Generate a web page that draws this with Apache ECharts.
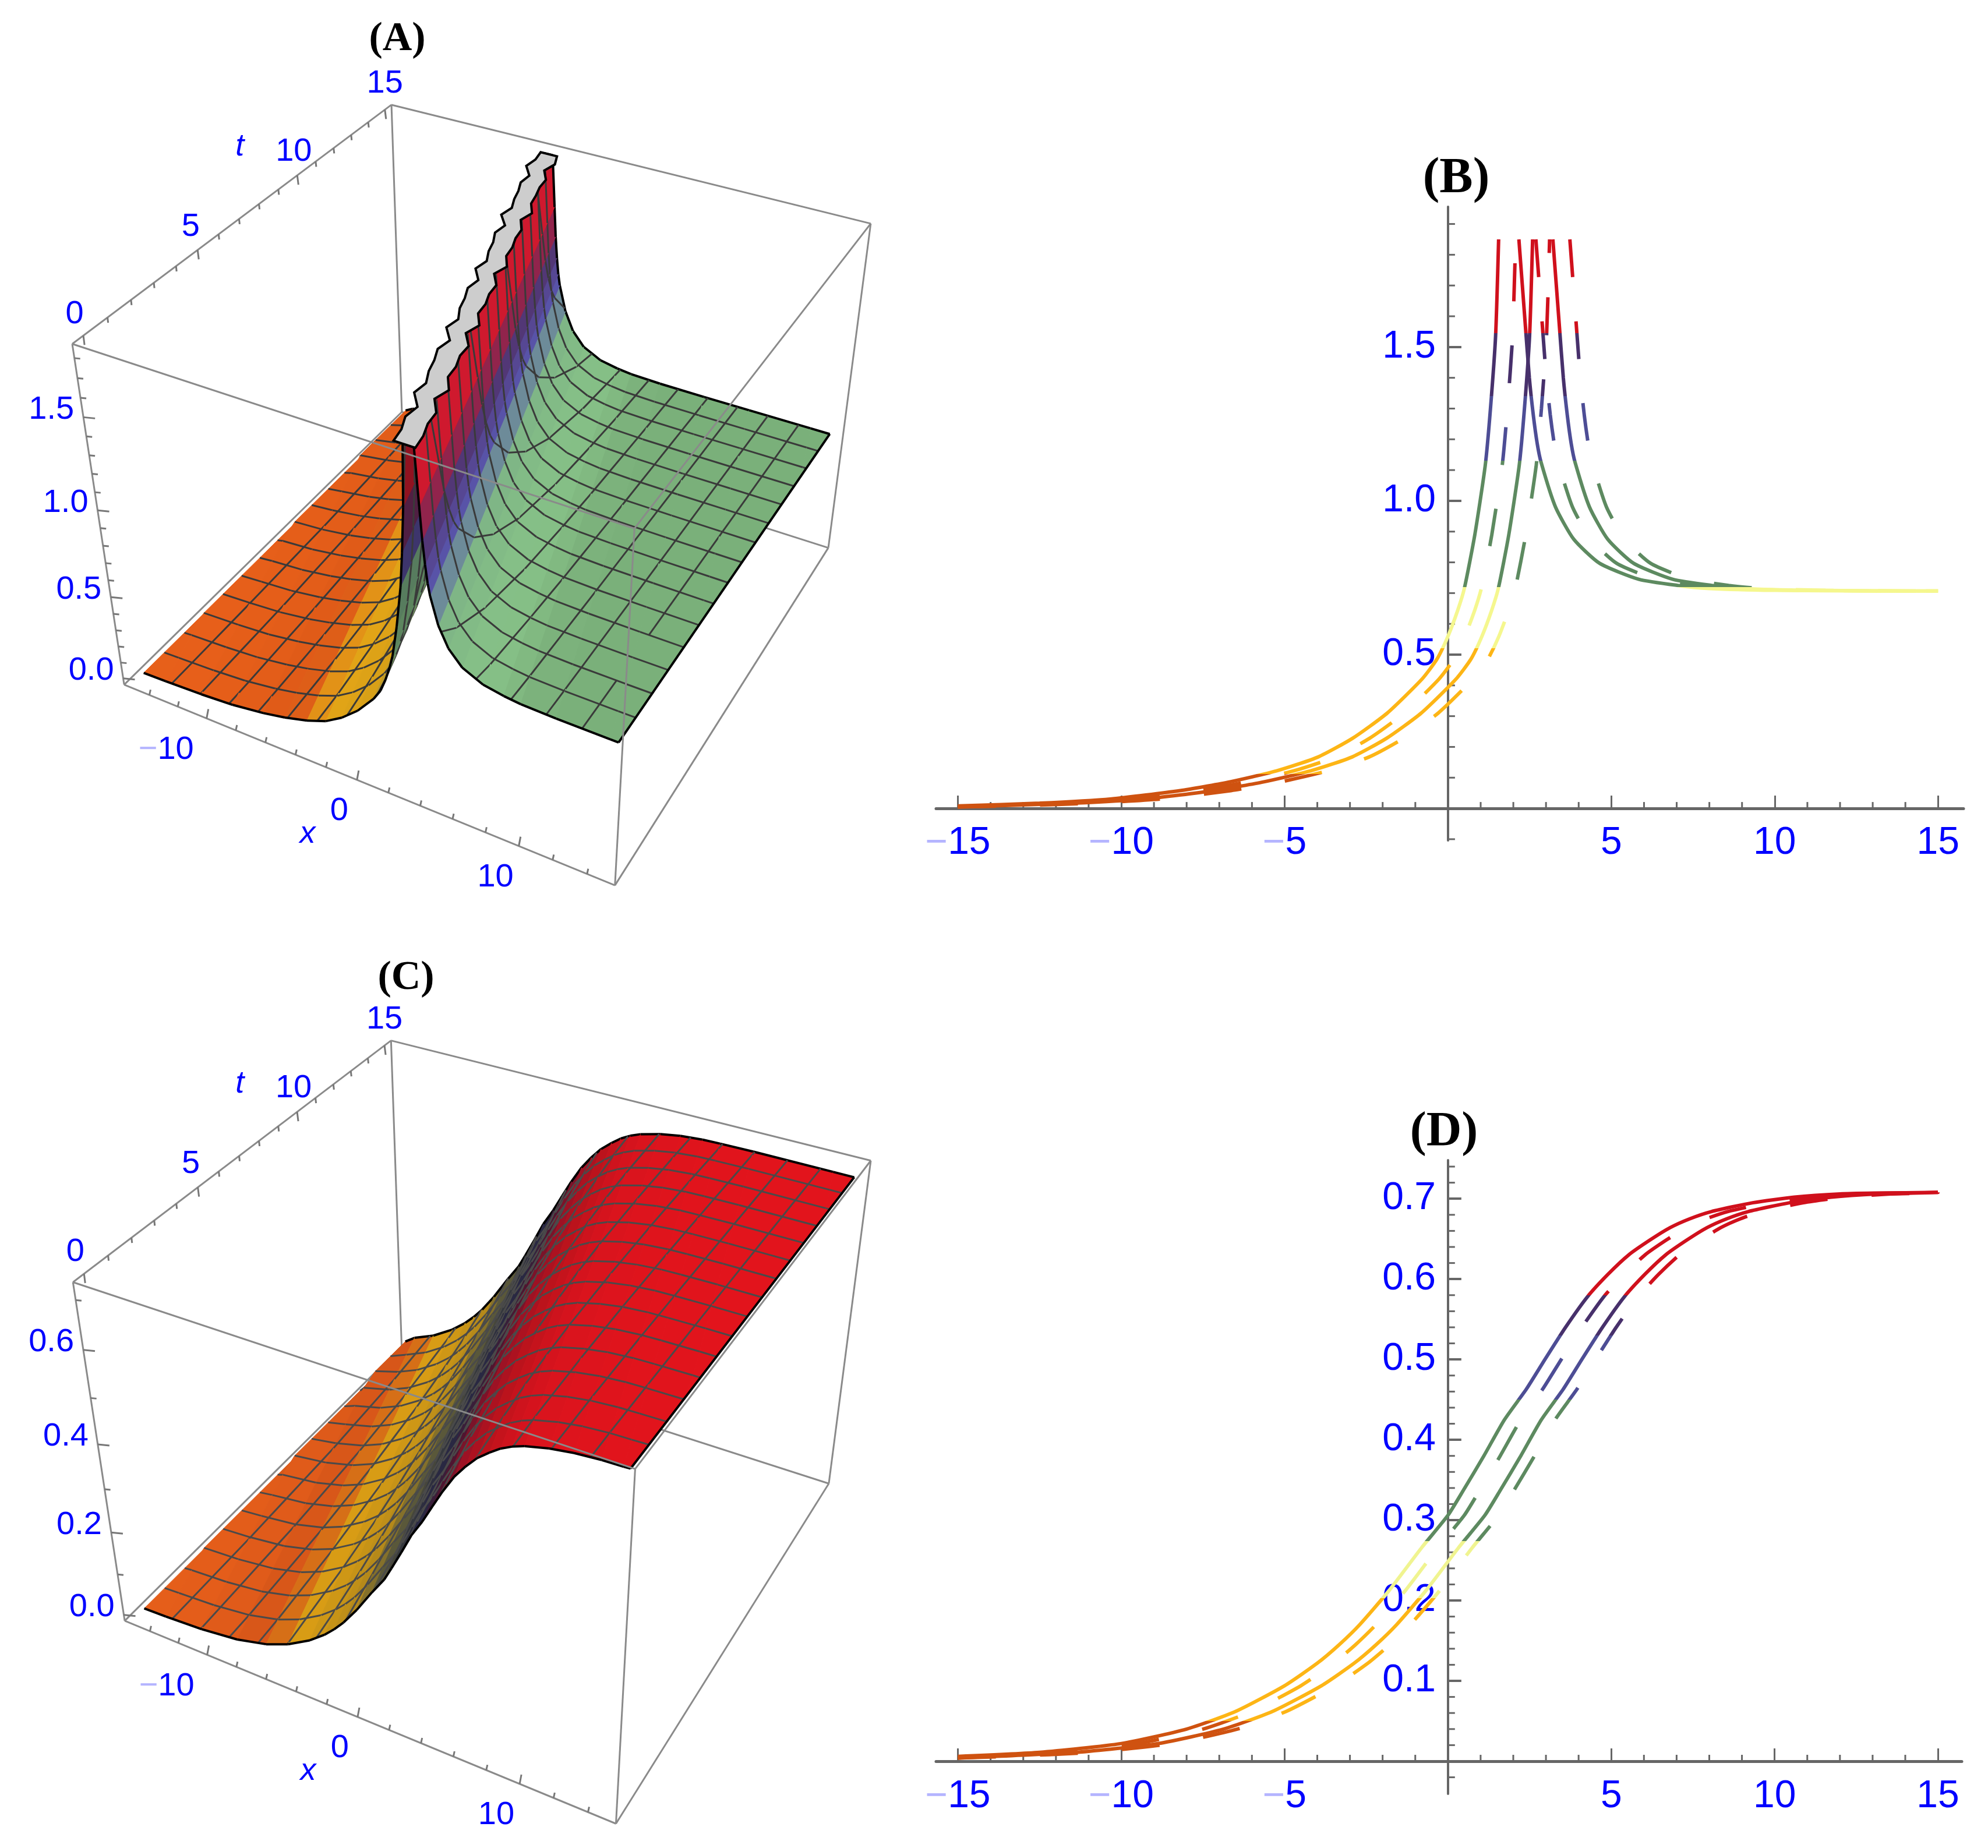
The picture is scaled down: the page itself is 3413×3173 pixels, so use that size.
<!DOCTYPE html>
<html><head><meta charset="utf-8"><style>html,body{margin:0;background:#fff}#c{width:3413px;height:3173px}</style>
<script src="https://cdn.jsdelivr.net/npm/echarts@6/dist/echarts.min.js"></script></head><body><div id="c"></div>
<script>
// ---- values ----
const profileALeft=[[-25,.001],[-20,.003],[-17,.005],[-15,.008],[-12.5,.017],[-10.3,.031],[-8.2,.058],[-6.74,.085],[-5.25,.122],[-3.98,.167],[-2.92,.228],[-1.86,.31],[-.8,.42],[-.34,.485],[0,.56],[.3,.645],[.5,.715],[.82,.889],[1.14,1.115],[1.3,1.3],[1.457,1.536],[1.55,1.85]];
const profileARight=[[2.17,1.85],[2.37,1.567],[2.49,1.4],[2.61,1.28],[2.73,1.187],[2.85,1.125],[3.29,.98],[3.85,.875],[4.64,.797],[5.84,.745],[7.03,.725],[8,.715],[10,.709],[13,.707],[16,.707],[20,.707],[25,.707],[30,.707]];
const profileD=[[-25,.001],[-20,.002],[-17,.004],[-15,.006],[-12.5,.011],[-10,.022],[-8,.04],[-6.5,.062],[-5,.094],[-4,.122],[-3.33,.145],[-2.7,.17],[-1.81,.212],[-.8,.266],[0,.306],[.47,.337],[1.1,.38],[1.73,.425],[2.4,.463],[3,.502],[3.6,.54],[4.27,.578],[4.9,.606],[5.53,.63],[6.2,.649],[6.8,.664],[7.4,.675],[8.06,.684],[9.33,.695],[10.6,.702],[12,.706],[13.1,.707],[15.15,.708],[20,.708],[25,.708],[30,.708]];
const shiftsB=[0,.52,1.04,1.56];
const shiftsD=[0,.5,1.13,1.55];
const tRows=[0,1,2,3,4,5,6,7,8,9,10,11,12,13,14,15];
const ridgeShiftA=[1.56,1.04,.52,0,-.52,-1.04,-1.56,-2.08,-2.6,-3.12,-3.64,-4.16,-4.68,-5.2,-5.72,-6.24];
const ridgeShiftC=[1.55,1.03,.51,-.01,-.53,-1.05,-1.57,-2.09,-2.61,-3.13,-3.65,-4.17,-4.69,-5.21,-5.73,-6.25];
const capHalfWidthL=[.55,.7,.55,.45,.7,.6,.5,.75,.6,.45,.7,.55,.5,.75,.6,.5,.7,.55,.45,.7,.6,.5,.75,.6,.45,.7,.55,.5,.7,.6,.5];
const capHalfWidthR=[.65,.5,.7,.6,.45,.7,.6,.5,.7,.65,.45,.7,.6,.5,.7,.6,.45,.7,.65,.5,.7,.55,.5,.7,.65,.45,.7,.6,.5,.7,.6];
const xMeshLines=[-13,-11,-9,-7,-5,-3,-1,1,3,5,7,9,11,13];
const xMajorBD=[-15,-10,-5,0,5,10,15];
const xMinorBD=[-14,-13,-12,-11,-9,-8,-7,-6,-4,-3,-2,-1,1,2,3,4,6,7,8,9,11,12,13,14];
const yMajorB=[.5,1,1.5];
const yMinorB=[-.1,.1,.2,.3,.4,.6,.7,.8,.9,1.1,1.2,1.3,1.4,1.6,1.7,1.8,1.9];
const yMajorD=[.1,.2,.3,.4,.5,.6,.7];
const yMinorD=[-.02,.02,.04,.06,.08,.12,.14,.16,.18,.22,.24,.26,.28,.32,.34,.36,.38,.42,.44,.46,.48,.52,.54,.56,.58,.62,.64,.66,.68,.72,.74];
const x3dMajor=[-10,0,10], x3dMinor=[-14,-12,-8,-6,-4,-2,2,4,6,8,12,14];
const t3dMajor=[0,5,10,15], t3dMinor=[1,2,3,4,6,7,8,9,11,12,13,14];
const zMajorA=[0,.5,1,1.5], zMinorA=[.1,.2,.3,.4,.6,.7,.8,.9,1.1,1.2,1.3,1.4,1.6,1.7,1.8];
const zMajorC=[0,.2,.4,.6], zMinorC=[.1,.3,.5,.7];
const bandsB=[[-1,.112,'#cf5210'],[.112,.52,'#fdb515'],[.52,.72,'#f5f78e'],[.72,1.13,'#5d8a60'],[1.13,1.34,'#4d4d95'],[1.34,1.545,'#47306b'],[1.545,3,'#d0101c']];
const bandsD=[[-1,.05,'#cf5210'],[.05,.203,'#fdb515'],[.203,.274,'#f0f490'],[.274,.45,'#5d8a60'],[.45,.53,'#4d4d95'],[.53,.58,'#47306b'],[.58,1,'#d0101c']];
const surfA={z:[0,.1,.16,.42,.55,.66,.7,1,1.12,1.35,1.5,1.6,1.9],c:['#e8601a','#e05a18','#e8a817','#e0a818','#8f9a60','#6a9a70','#7ab07a','#70a078','#5050a0','#4a3068','#8a1f40','#b8182a','#c01528']};
const surfC={z:[0,.04,.07,.2,.27,.36,.45,.52,.58,.64,.68,.75],c:['#e8601a','#d9561a','#e4a515','#c8981e','#6e6a40','#3c4048','#2e2c4c','#5a1838','#a8142a','#c8141e','#dc141e','#ea141a']};
const cornersA=[[214,1177],[1056,1520],[690,704],[1421,943],[123,592],[1089,904],[672,181],[1496,384]];
const cornersC=[[217,2789],[1056,3130],[690,2302],[1421,2553],[123,2202],[1091,2515],[670,1791],[1498,1993]];
const boxA={x0:-15.8,x1:15.6,t0:-.45,t1:15.4,z0:-.04,z1:1.87};
const boxC={x0:-15.8,x1:15.6,t0:-.45,t1:15.4,z0:-.015,z1:.735};

const BLUE='#0000ff', FONT='"Liberation Sans"';
// ---- projection fitted to the box corners ----
function solve(A,b){const n=b.length;for(let i=0;i<n;i++){let p=i;for(let r=i+1;r<n;r++)if(Math.abs(A[r][i])>Math.abs(A[p][i]))p=r;[A[i],A[p]]=[A[p],A[i]];[b[i],b[p]]=[b[p],b[i]];for(let r=i+1;r<n;r++){const f=A[r][i]/A[i][i];for(let c=i;c<n;c++)A[r][c]-=f*A[i][c];b[r]-=f*b[i];}}const x=Array(n).fill(0);for(let i=n-1;i>=0;i--){let s=b[i];for(let c=i+1;c<n;c++)s-=A[i][c]*x[c];x[i]=s/A[i][i];}return x;}
function makeView(corners,box){
  const rows=[],rhs=[];
  corners.forEach((c,i)=>{const X=i&1,Y=(i>>1)&1,Z=(i>>2)&1,u=c[0]/1000,v=c[1]/1000;
    rows.push([X,Y,Z,1,0,0,0,0,-u*X,-u*Y,-u*Z]);rhs.push(u);
    rows.push([0,0,0,0,X,Y,Z,1,-v*X,-v*Y,-v*Z]);rhs.push(v);});
  const N=Array.from({length:11},()=>Array(11).fill(0)),B=Array(11).fill(0);
  rows.forEach((r,k)=>{for(let i=0;i<11;i++){B[i]+=r[i]*rhs[k];for(let j=0;j<11;j++)N[i][j]+=r[i]*r[j];}});
  const p=solve(N,B);
  const nrm=(x,t,z)=>[(x-box.x0)/(box.x1-box.x0),(t-box.t0)/(box.t1-box.t0),(z-box.z0)/(box.z1-box.z0)];
  return {box,
    proj(x,t,z){const [X,Y,Z]=nrm(x,t,z),w=p[8]*X+p[9]*Y+p[10]*Z+1;return [1000*(p[0]*X+p[1]*Y+p[2]*Z+p[3])/w,1000*(p[4]*X+p[5]*Y+p[6]*Z+p[7])/w];},
    depth(x,t,z){const [X,Y,Z]=nrm(x,t,z);return p[8]*X+p[9]*Y+p[10]*Z+1;}};
}
const hex=c=>[parseInt(c.slice(1,3),16),parseInt(c.slice(3,5),16),parseInt(c.slice(5,7),16)];
function colorAt(s,z,f){let i=0;while(i<s.z.length-2&&z>s.z[i+1])i++;const a=hex(s.c[i]),b=hex(s.c[i+1]),k=Math.max(0,Math.min(1,(z-s.z[i])/(s.z[i+1]-s.z[i])));
  return 'rgb('+a.map((v,n)=>Math.min(255,Math.round((v+(b[n]-v)*k)*f))).join(',')+')';}
const clampX=x=>Math.max(-15,Math.min(15,x));

function buildScene(view,profile,shift,style,opts){
  const b=view.box,back=[],quads=[],top=[];
  const e=(i)=>[(i&1)?b.x1:b.x0,(i&2)?b.t1:b.t0,(i&4)?b.z1:b.z0];
  const boxLine=(i,j,arr)=>arr.push({lines:[{pts:[e(i),e(j)],c:'#8a8a8a',w:3}]});
  [[2,3],[2,0],[2,6],[4,6],[6,7],[3,7],[0,1],[1,3],[0,4]].forEach(p=>boxLine(p[0],p[1],back));
  // surface rows share one read profile, moved by the ridge position of each row
  const row=r=>profile.map(p=>[clampX(p[0]+shift[r]),tRows[r],p[1]]);
  const range=b.z1-b.z0;
  for(let r=0;r<tRows.length-1;r++){
    const A=row(r),B=row(r+1);
    for(let k=0;k<A.length-1;k++){
      const q=[A[k],A[k+1],B[k+1],B[k]];
      if(q.every(v=>v[0]===-15)||q.every(v=>v[0]===15))continue;
      const zm=(q[0][2]+q[1][2]+q[2][2]+q[3][2])/4;
      const dx=(q[1][0]+q[2][0]-q[0][0]-q[3][0])/2, dz=(q[1][2]+q[2][2]-q[0][2]-q[3][2])/2;
      const s=dx>1e-6?(dz/range)/(dx/30):0;
      const f=s>0?1-.22*Math.min(1,s/opts.darkSlope):1+.11*Math.min(1,-s/.3);
      const lines=[];
      const rowEdgeX=B[k][0]!==B[k+1][0];
      if(rowEdgeX)lines.push({pts:[B[k],B[k+1]],c:r===tRows.length-2?'#000':opts.mesh,w:r===tRows.length-2?4:3});
      xMeshLines.forEach(X=>{const hit=[];for(let n=0;n<4;n++){const u=q[n],v=q[(n+1)%4];if((u[0]-X)*(v[0]-X)<0){const a=(X-u[0])/(v[0]-u[0]);hit.push([X,u[1]+(v[1]-u[1])*a,u[2]+(v[2]-u[2])*a]);}}
        if(hit.length>=2)lines.push({pts:[hit[0],hit[1]],c:opts.mesh,w:3});});
      const cz=[0,1,2,3].reduce((a,n)=>a+view.depth(q[n][0],q[n][1],q[n][2]),0)/4;
      quads.push({poly:q,fill:colorAt(style,zm,f),lines,d:cz});
    }
  }
  quads.sort((a,b)=>b.d-a.d);
  // outer edges
  const first=row(0),last=tRows.length-1;
  const eds=[];
  for(let k=0;k<first.length-1;k++)if(first[k][0]!==first[k+1][0])eds.push({pts:[first[k],first[k+1]],c:'#000',w:4});
  const zEnd=profile[profile.length-1][1];
  eds.push({pts:[[15,0,zEnd],[15,15,zEnd]],c:'#000',w:4});
  top.push({lines:eds});
  if(opts.cap){
    const L=[],R=[];
    opts.capL.forEach((w,i)=>{const t=i/2,a=Math.floor(t),c=Math.min(a+1,last),m=(shift[a]+shift[c])/2+1.86;L.push([m-w,t,opts.capZ]);R.push([m+opts.capR[i],t,opts.capZ]);});
    top.push({poly:L.concat(R.reverse()),fill:'#cdcdcd',stroke:'#000',sw:4});
  }
  [[4,5],[5,7],[5,1]].forEach(p=>boxLine(p[0],p[1],top));
  // axis ticks, along the three labelled box edges
  const tk=[];
  const tickItem=(pt,dx,dy)=>({raw:[pt,dx,dy]});
  x3dMajor.forEach(x=>tk.push(tickItem([x,b.t0,b.z0],3,-16)));x3dMinor.forEach(x=>tk.push(tickItem([x,b.t0,b.z0],2,-9)));
  t3dMajor.forEach(t=>tk.push(tickItem([b.x0,t,b.z1],2,16)));t3dMinor.forEach(t=>tk.push(tickItem([b.x0,t,b.z1],1,9)));
  opts.zMajor.forEach(z=>tk.push(tickItem([b.x0,b.t0,z],20,2)));opts.zMinor.forEach(z=>tk.push(tickItem([b.x0,b.t0,z],10,1)));
  const labels=[];
  const tOff={0:[-15,-37],5:[-12,-40],10:[-6,-41],15:[0,-45]};
  x3dMajor.forEach(x=>labels.push({at:[x,b.t0,b.z0],dx:x<0?-22:(x>0?-9:-15),dy:54,rich:x<0?'{m|−}{d|'+(-x)+'}':'{d|'+x+'}',align:'right'}));
  t3dMajor.forEach(t=>labels.push({at:[b.x0,t,b.z1],dx:tOff[t][0],dy:tOff[t][1],rich:'{d|'+t+'}',align:'center'}));
  opts.zMajor.forEach(z=>labels.push({at:[b.x0,b.t0,z],dx:-16,dy:-13,rich:'{d|'+z.toFixed(1)+'}',align:'right'}));
  labels.push({at:[b.x0+opts.xAxisLabelU,b.t0,b.z0],dx:-5,dy:120,rich:'{i|x}',align:'right'});
  labels.push({at:[b.x0,opts.tAxisLabelT,b.z1],dx:-66,dy:-73,rich:'{i|t}',align:'center'});
  return back.concat(quads,top,tk,labels);
}
const viewA=makeView(cornersA,boxA), viewC=makeView(cornersC,boxC);
const itemsA=buildScene(viewA,profileALeft.concat(profileARight),ridgeShiftA,surfA,{mesh:'#3a3a3a',darkSlope:8,cap:true,capL:capHalfWidthL,capR:capHalfWidthR,capZ:1.85,zMajor:zMajorA,zMinor:zMinorA,xAxisLabelU:13.3,tAxisLabelT:9});
const itemsC=buildScene(viewC,profileD,ridgeShiftC,surfC,{mesh:'#4a4a4a',darkSlope:4,cap:false,zMajor:zMajorC,zMinor:zMinorC,xAxisLabelU:13.3,tAxisLabelT:9});
const richText={d:{fontFamily:FONT,fontSize:56,fill:BLUE,color:BLUE},m:{fontFamily:FONT,fontSize:56,fill:'#b4b4ff',color:'#b4b4ff'},i:{fontFamily:FONT,fontStyle:'italic',fontSize:54,fill:BLUE,color:BLUE}};
function sceneRender(view,items){return (params,api)=>{
  const it=items[api.value(0)],ch=[];
  const pt=v=>{const p=view.proj(v[0],v[1],v[2]);return api.coord(p);};
  if(it.poly){const pts=it.poly.map(pt);ch.push({type:'polygon',shape:{points:pts},style:{fill:it.fill,stroke:it.stroke||it.fill,lineWidth:it.sw||1}});}
  if(it.lines)it.lines.forEach(l=>ch.push({type:'line',shape:{x1:pt(l.pts[0])[0],y1:pt(l.pts[0])[1],x2:pt(l.pts[1])[0],y2:pt(l.pts[1])[1]},style:{stroke:l.c,lineWidth:l.w}}));
  if(it.raw){const a=pt(it.raw[0]);ch.push({type:'line',shape:{x1:a[0],y1:a[1],x2:a[0]+it.raw[1],y2:a[1]+it.raw[2]},style:{stroke:'#777',lineWidth:3}});}
  if(it.at){const a=pt(it.at);ch.push({type:'text',x:a[0]+it.dx,y:a[1]+it.dy,style:{text:it.rich,align:it.align,verticalAlign:'middle',rich:richText}});}
  return {type:'group',children:ch};
};}
function sceneSeries(view,items){return {type:'custom',coordinateSystem:'cartesian2d',xAxisIndex:0,yAxisIndex:0,silent:true,clip:false,animation:false,progressive:0,renderItem:sceneRender(view,items),data:items.map((_,i)=>[i]),encode:{x:0,y:0}};}

function curve(list,s){const out=[];list.forEach(p=>{const x=clampX(p[0]+s);if(out.length&&out[out.length-1][0]===x){if(x===-15)out[out.length-1]=[x,p[1]];return;}out.push([x,p[1]]);});return out;}
function lineSeries(data,axis,dash,z){return {type:'line',xAxisIndex:axis,yAxisIndex:axis,data,showSymbol:false,symbol:'none',smooth:.2,silent:true,animation:false,z,clip:false,lineStyle:{width:6,type:dash?[65,76]:'solid',cap:'butt'}};}
const seriesB=[
  lineSeries(curve(profileALeft,shiftsB[0]).concat([[null,null]],curve(profileARight,shiftsB[0])),1,false,4),
  lineSeries(curve(profileALeft,shiftsB[2]).concat([[null,null]],curve(profileARight,shiftsB[2])),1,false,4),
  lineSeries(curve(profileALeft,shiftsB[1]),1,true,3),
  lineSeries(curve(profileARight,shiftsB[1]),1,true,3),
  lineSeries(curve(profileALeft,shiftsB[3]),1,true,3),
  lineSeries(curve(profileARight,shiftsB[3]),1,true,3)];
const seriesD=[
  lineSeries(curve(profileD,shiftsD[0]),2,false,4),
  lineSeries(curve(profileD,shiftsD[2]),2,false,4),
  lineSeries(curve(profileD,shiftsD[1]),2,true,3),
  lineSeries(curve(profileD,shiftsD[3]),2,true,3)];
function minorSeries(axis,xs,ys,lenX,lenY){const data=xs.map(v=>[v,0,0]).concat(ys.map(v=>[0,v,1]));
  return {type:'custom',xAxisIndex:axis,yAxisIndex:axis,silent:true,clip:false,animation:false,z:2,data,encode:{x:0,y:1},
    renderItem:(p,api)=>{const a=api.coord([api.value(0),api.value(1)]),h=api.value(2)===1;return {type:'line',shape:{x1:a[0],y1:a[1],x2:h?a[0]+lenY:a[0],y2:h?a[1]:a[1]-lenX},style:{stroke:'#666',lineWidth:3}};}};}
const lblFmt=v=>v<0?'{m|−}{d|'+(-v)+'}':'{d|'+v+'}';
const plotRich={d:{fontFamily:FONT,fontSize:66,color:BLUE},m:{fontFamily:FONT,fontSize:66,color:'#b4b4ff'}};
function xAx(i,grid,min,max){return {type:'value',gridIndex:grid,min,max,splitLine:{show:false},
  axisLine:{show:true,onZero:true,lineStyle:{color:'#666',width:5}},
  axisTick:{show:true,inside:true,length:22,customValues:xMajorBD,lineStyle:{color:'#666',width:3}},
  axisLabel:{show:true,customValues:xMajorBD.filter(v=>v!==0),margin:-28,formatter:lblFmt,rich:plotRich}};}
function yAx(i,grid,min,max,majors){return {type:'value',gridIndex:grid,min,max,splitLine:{show:false},
  axisLine:{show:true,onZero:true,lineStyle:{color:'#666',width:4}},
  axisTick:{show:true,inside:true,length:23,customValues:majors,lineStyle:{color:'#666',width:4}},
  axisLabel:{show:true,customValues:majors,margin:-858,formatter:v=>'{d|'+v.toFixed(1)+'}',rich:plotRich}};}
const toPieces=b=>b.map(p=>({gt:p[0],lte:p[1],color:p[2]}));
const titles=[['(A)',677,63,70],['(B)',2495,303,86],['(C)',692,1675,70],['(D)',2474,1940,84]];
const allSeries=[sceneSeries(viewA,itemsA),sceneSeries(viewC,itemsC)].concat(seriesB,seriesD,[minorSeries(1,xMinorBD,yMinorB,11,12),minorSeries(2,xMinorBD,yMinorD,11,12)]);
const chart=echarts.init(document.getElementById('c'),null,{renderer:'canvas',width:3413,height:3173});
chart.setOption({backgroundColor:'#fff',animation:false,
  title:titles.map(t=>({text:t[0],left:t[1],top:t[2],textAlign:'center',textVerticalAlign:'middle',textStyle:{fontFamily:'"Liberation Serif"',fontWeight:'bold',fontSize:t[3],color:'#000'}})),
  grid:[{left:0,top:0,width:3413,height:3173,show:false},{left:1607,width:1764,top:355,height:1088},{left:1607,width:1761,top:1992,height:1088}],
  xAxis:[{type:'value',gridIndex:0,min:0,max:3413,show:false},xAx(1,1,-15.67,15.78),xAx(2,2,-15.67,15.73)],
  yAxis:[{type:'value',gridIndex:0,min:0,max:3173,inverse:true,show:false},yAx(1,1,-.104,1.956,yMajorB),yAx(2,2,-.0406,.748,yMajorD)],
  visualMap:[{show:false,type:'piecewise',dimension:1,seriesIndex:[2,3,4,5,6,7],pieces:toPieces(bandsB)},{show:false,type:'piecewise',dimension:1,seriesIndex:[8,9,10,11],pieces:toPieces(bandsD)}],
  series:allSeries});
</script></body></html>
